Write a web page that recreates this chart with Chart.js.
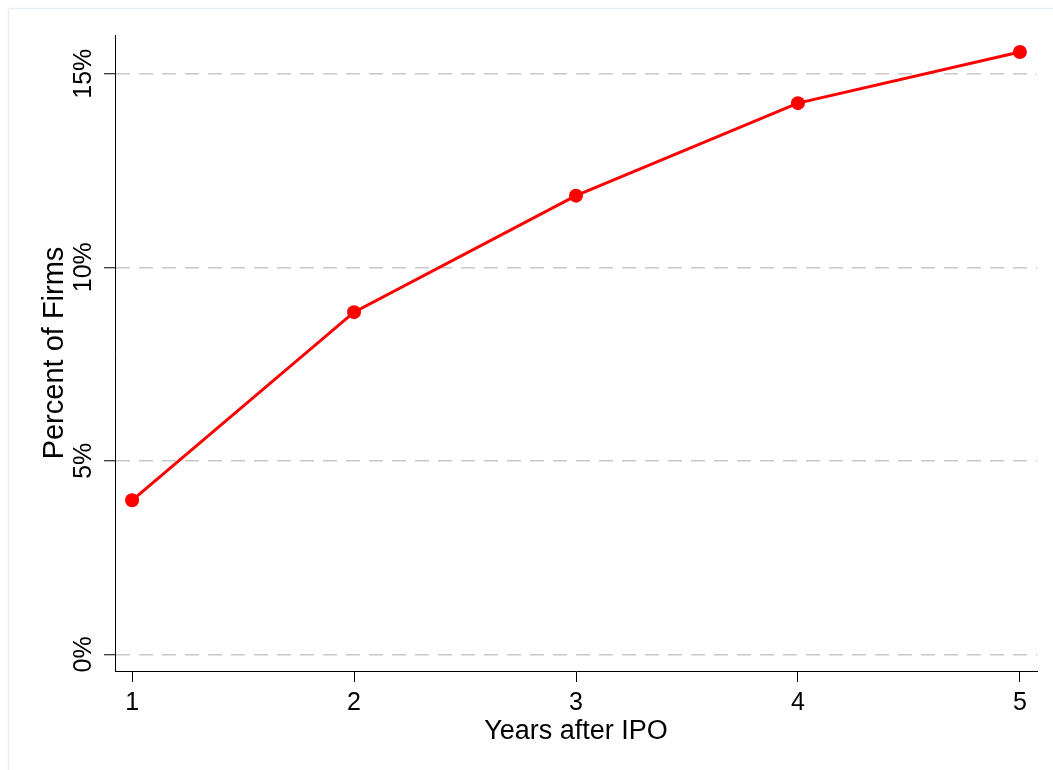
<!DOCTYPE html>
<html>
<head>
<meta charset="utf-8">
<script src="https://cdn.jsdelivr.net/npm/chart.js@4/dist/chart.umd.min.js"></script>
<style>
  html, body { margin: 0; padding: 0; background: #fff; }
  #wrap { width: 1053px; height: 770px; position: relative; }
</style>
</head>
<body>
<div id="wrap"><canvas id="c" width="1053" height="770"></canvas></div>
<script>
// Share of firms by years since IPO
const years = [1, 2, 3, 4, 5];
const percentFirms = [3.98, 8.84, 11.85, 14.24, 15.56];
const yTickValues = [0, 5, 10, 15];
const yTickLabels = ['0%', '5%', '10%', '15%'];
const xTickValues = [1, 2, 3, 4, 5];

const FONT = "'Liberation Sans', Arial, sans-serif";

// light outer frame around the graph region
const framePlugin = {
  id: 'frame',
  beforeDraw(chart) {
    const ctx = chart.ctx;
    ctx.save();
    ctx.fillStyle = '#ffffff';
    ctx.fillRect(0, 0, chart.width, chart.height);
    ctx.strokeStyle = '#e8eef2';
    ctx.lineWidth = 1.5;
    ctx.strokeRect(8.5, 8.5, chart.width + 20, chart.height + 20);
    ctx.restore();
  }
};

// vertical y tick labels, reading bottom to top, centred on each tick
const yLabelPlugin = {
  id: 'yLabels',
  afterDraw(chart) {
    const s = chart.scales.y;
    const ctx = chart.ctx;
    ctx.save();
    ctx.font = '25px ' + FONT;
    ctx.fillStyle = '#000';
    ctx.textAlign = 'center';
    ctx.textBaseline = 'middle';
    s.ticks.forEach((t) => {
      const py = s.getPixelForValue(t.value);
      ctx.save();
      ctx.translate(84, py);
      ctx.rotate(-Math.PI / 2);
      ctx.fillText(yTickLabels[yTickValues.indexOf(t.value)], 0, 0);
      ctx.restore();
    });
    ctx.restore();
  }
};

new Chart(document.getElementById('c'), {
  type: 'line',
  data: {
    datasets: [{
      data: years.map((x, i) => ({ x: x, y: percentFirms[i] })),
      borderColor: '#ff0000',
      backgroundColor: '#ff0000',
      borderWidth: 3,
      pointRadius: 7,
      pointBorderWidth: 0,
      pointBackgroundColor: '#ff0000',
      tension: 0
    }]
  },
  options: {
    responsive: false,
    animation: false,
    devicePixelRatio: 1,
    layout: { padding: { top: 35, right: 16, left: 0, bottom: 0 } },
    plugins: { legend: { display: false }, tooltip: { enabled: false } },
    scales: {
      x: {
        type: 'linear',
        min: 0.923,
        max: 5.077,
        afterBuildTicks(scale) { scale.ticks = xTickValues.map(v => ({ value: v })); },
        afterFit(scale) { scale.height = 99; },
        ticks: {
          color: '#000',
          font: { family: FONT, size: 25 },
          padding: 6,
          maxRotation: 0,
          callback: v => String(v)
        },
        grid: {
          drawOnChartArea: false,
          drawTicks: true,
          tickLength: 11,
          tickColor: '#000',
          tickWidth: 1
        },
        border: { display: true, color: '#000', width: 1 },
        title: {
          display: true,
          text: 'Years after IPO',
          color: '#000',
          font: { family: FONT, size: 27 },
          padding: { top: 0, bottom: 22 }
        }
      },
      y: {
        type: 'linear',
        min: -0.43,
        max: 16.0,
        afterBuildTicks(scale) { scale.ticks = yTickValues.map(v => ({ value: v })); },
        afterFit(scale) { scale.width = 115; },
        ticks: { display: false },
        grid: {
          drawOnChartArea: true,
          color: '#c8c8c8',
          lineWidth: 1.5,
          tickLength: 11,
          tickColor: '#000',
          tickWidth: 1,
          tickBorderDash: []
        },
        border: { display: true, color: '#000', width: 1, dash: [14, 9] },
        title: {
          display: true,
          text: 'Percent of Firms',
          color: '#000',
          font: { family: FONT, size: 29 },
          padding: { top: 38, bottom: 0 }
        }
      }
    }
  },
  plugins: [framePlugin, yLabelPlugin]
});
</script>
</body>
</html>
